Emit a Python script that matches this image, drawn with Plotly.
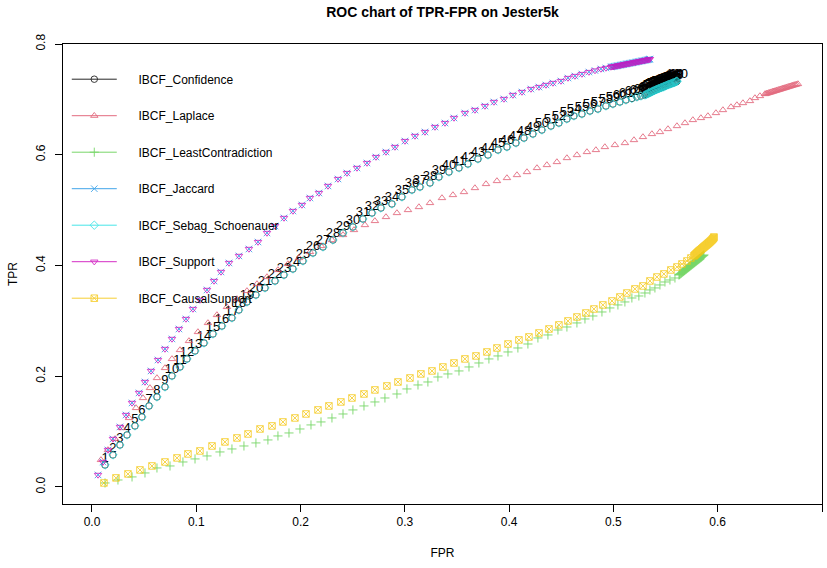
import plotly.graph_objects as go

# ---------------- data ----------------
series_names = ["IBCF_Confidence", "IBCF_Laplace", "IBCF_LeastContradiction", "IBCF_Jaccard",
                "IBCF_Sebag_Schoenauer", "IBCF_Support", "IBCF_CausalSupport"]

confidence_fpr = [0.0125, 0.0201, 0.0268, 0.0336, 0.0412, 0.0479, 0.0547, 0.0623, 0.0700, 0.0767,
                  0.0844, 0.0911, 0.0988, 0.1074, 0.1160, 0.1246, 0.1342, 0.1409, 0.1486, 0.1572,
                  0.1659, 0.1755, 0.1841, 0.1927, 0.2023, 0.2119, 0.2215, 0.2311, 0.2407, 0.2502,
                  0.2598, 0.2685, 0.2771, 0.2876, 0.2972, 0.3068, 0.3145, 0.3241, 0.3327, 0.3423,
                  0.3519, 0.3605, 0.3701, 0.3797, 0.3893, 0.3979, 0.4065, 0.4142, 0.4228, 0.4314,
                  0.4401, 0.4477, 0.4554, 0.4621, 0.4698, 0.4775, 0.4851, 0.4928, 0.4995, 0.5062,
                  0.5120, 0.5177, 0.5225, 0.5264, 0.5302, 0.5312, 0.5322, 0.5332, 0.5342, 0.5352,
                  0.5362, 0.5371, 0.5380, 0.5389, 0.5398, 0.5407, 0.5416, 0.5425, 0.5434, 0.5443,
                  0.5452, 0.5461, 0.5470, 0.5479, 0.5488, 0.5497, 0.5506, 0.5515, 0.5524, 0.5533,
                  0.5542, 0.5551, 0.5560, 0.5569, 0.5578, 0.5586, 0.5594, 0.5601, 0.5606, 0.5610]
confidence_tpr = [0.0397, 0.0578, 0.0758, 0.0939, 0.1102, 0.1264, 0.1463, 0.1625, 0.1806, 0.2005,
                  0.2167, 0.2312, 0.2456, 0.2600, 0.2763, 0.2907, 0.3052, 0.3196, 0.3341, 0.3467,
                  0.3594, 0.3720, 0.3828, 0.3937, 0.4081, 0.4226, 0.4334, 0.4460, 0.4587, 0.4695,
                  0.4840, 0.4948, 0.5038, 0.5111, 0.5237, 0.5364, 0.5418, 0.5490, 0.5598, 0.5688,
                  0.5761, 0.5833, 0.5923, 0.5995, 0.6086, 0.6140, 0.6212, 0.6302, 0.6375, 0.6447,
                  0.6519, 0.6573, 0.6646, 0.6700, 0.6736, 0.6790, 0.6826, 0.6880, 0.6916, 0.6953,
                  0.6989, 0.7016, 0.7043, 0.7061, 0.7079, 0.7088, 0.7097, 0.7106, 0.7115, 0.7124,
                  0.7133, 0.7141, 0.7149, 0.7157, 0.7165, 0.7173, 0.7180, 0.7187, 0.7194, 0.7201,
                  0.7208, 0.7215, 0.7222, 0.7229, 0.7236, 0.7243, 0.7250, 0.7257, 0.7264, 0.7270,
                  0.7276, 0.7282, 0.7288, 0.7294, 0.7300, 0.7306, 0.7312, 0.7318, 0.7324, 0.7330]

laplace_fpr = [0.0086, 0.0153, 0.0221, 0.0288, 0.0355, 0.0422, 0.0489, 0.0556, 0.0623, 0.0700,
               0.0767, 0.0844, 0.0930, 0.1016, 0.1112, 0.1198, 0.1294, 0.1390, 0.1486, 0.1582,
               0.1678, 0.1783, 0.1879, 0.1985, 0.2090, 0.2196, 0.2301, 0.2407, 0.2512, 0.2617,
               0.2713, 0.2819, 0.2924, 0.3030, 0.3135, 0.3241, 0.3356, 0.3461, 0.3567, 0.3672,
               0.3778, 0.3883, 0.3979, 0.4075, 0.4171, 0.4267, 0.4362, 0.4458, 0.4554, 0.4650,
               0.4746, 0.4832, 0.4918, 0.5014, 0.5110, 0.5197, 0.5283, 0.5369, 0.5446, 0.5523,
               0.5609, 0.5686, 0.5762, 0.5839, 0.5906, 0.5983, 0.6050, 0.6127, 0.6184, 0.6242,
               0.6309, 0.6357, 0.6405, 0.6453, 0.6466, 0.6478, 0.6490, 0.6502, 0.6514, 0.6526,
               0.6538, 0.6550, 0.6562, 0.6574, 0.6586, 0.6598, 0.6610, 0.6622, 0.6634, 0.6646,
               0.6658, 0.6670, 0.6682, 0.6694, 0.6706, 0.6718, 0.6730, 0.6742, 0.6755, 0.6769]
laplace_tpr = [0.0488, 0.0668, 0.0867, 0.1065, 0.1246, 0.1427, 0.1607, 0.1788, 0.1968, 0.2149,
               0.2312, 0.2474, 0.2637, 0.2799, 0.2962, 0.3106, 0.3251, 0.3395, 0.3540, 0.3666,
               0.3792, 0.3919, 0.4027, 0.4135, 0.4244, 0.4352, 0.4460, 0.4551, 0.4641, 0.4731,
               0.4804, 0.4876, 0.4948, 0.5002, 0.5056, 0.5129, 0.5219, 0.5273, 0.5327, 0.5399,
               0.5472, 0.5526, 0.5580, 0.5634, 0.5688, 0.5761, 0.5815, 0.5869, 0.5941, 0.5995,
               0.6050, 0.6086, 0.6140, 0.6176, 0.6212, 0.6266, 0.6321, 0.6375, 0.6411, 0.6465,
               0.6519, 0.6573, 0.6628, 0.6664, 0.6700, 0.6754, 0.6808, 0.6862, 0.6898, 0.6934,
               0.6971, 0.7025, 0.7061, 0.7097, 0.7104, 0.7111, 0.7118, 0.7125, 0.7132, 0.7139,
               0.7146, 0.7153, 0.7160, 0.7167, 0.7174, 0.7181, 0.7188, 0.7195, 0.7202, 0.7209,
               0.7216, 0.7223, 0.7230, 0.7237, 0.7244, 0.7251, 0.7258, 0.7264, 0.7271, 0.7278]

leastcontra_fpr = [0.0125, 0.0249, 0.0384, 0.0508, 0.0623, 0.0748, 0.0872, 0.0988, 0.1103, 0.1227,
                   0.1342, 0.1457, 0.1572, 0.1687, 0.1783, 0.1889, 0.1994, 0.2100, 0.2196, 0.2301,
                   0.2407, 0.2502, 0.2608, 0.2713, 0.2809, 0.2924, 0.3020, 0.3126, 0.3221, 0.3317,
                   0.3413, 0.3519, 0.3615, 0.3710, 0.3806, 0.3893, 0.3989, 0.4084, 0.4180, 0.4276,
                   0.4372, 0.4468, 0.4554, 0.4650, 0.4727, 0.4803, 0.4890, 0.4966, 0.5043, 0.5110,
                   0.5177, 0.5244, 0.5302, 0.5350, 0.5398, 0.5446, 0.5494, 0.5542, 0.5590, 0.5628,
                   0.5634, 0.5640, 0.5646, 0.5652, 0.5658, 0.5664, 0.5670, 0.5676, 0.5682, 0.5688,
                   0.5694, 0.5700, 0.5706, 0.5712, 0.5718, 0.5724, 0.5730, 0.5736, 0.5742, 0.5748,
                   0.5754, 0.5760, 0.5766, 0.5772, 0.5778, 0.5784, 0.5790, 0.5796, 0.5802, 0.5808,
                   0.5814, 0.5820, 0.5826, 0.5832, 0.5838, 0.5844, 0.5850, 0.5856, 0.5862, 0.5868]
leastcontra_tpr = [0.0072, 0.0126, 0.0181, 0.0253, 0.0343, 0.0379, 0.0451, 0.0506, 0.0560, 0.0632,
                   0.0686, 0.0740, 0.0795, 0.0849, 0.0921, 0.0975, 0.1047, 0.1120, 0.1174, 0.1246,
                   0.1318, 0.1391, 0.1463, 0.1535, 0.1607, 0.1679, 0.1770, 0.1842, 0.1896, 0.1986,
                   0.2041, 0.2095, 0.2167, 0.2239, 0.2312, 0.2366, 0.2438, 0.2510, 0.2582, 0.2691,
                   0.2745, 0.2835, 0.2889, 0.2962, 0.3034, 0.3088, 0.3160, 0.3233, 0.3287, 0.3341,
                   0.3413, 0.3449, 0.3503, 0.3558, 0.3594, 0.3648, 0.3702, 0.3738, 0.3774, 0.3828,
                   0.3837, 0.3846, 0.3855, 0.3864, 0.3873, 0.3882, 0.3891, 0.3900, 0.3909, 0.3918,
                   0.3927, 0.3936, 0.3945, 0.3954, 0.3963, 0.3972, 0.3981, 0.3990, 0.3999, 0.4008,
                   0.4017, 0.4026, 0.4035, 0.4044, 0.4053, 0.4062, 0.4071, 0.4080, 0.4089, 0.4098,
                   0.4107, 0.4116, 0.4125, 0.4134, 0.4143, 0.4152, 0.4161, 0.4170, 0.4180, 0.4190]

support_fpr = [0.0058, 0.0105, 0.0153, 0.0201, 0.0268, 0.0326, 0.0384, 0.0451, 0.0508, 0.0566,
               0.0633, 0.0700, 0.0767, 0.0834, 0.0901, 0.0968, 0.1035, 0.1103, 0.1170, 0.1237,
               0.1314, 0.1409, 0.1505, 0.1592, 0.1678, 0.1755, 0.1841, 0.1927, 0.2013, 0.2090,
               0.2176, 0.2263, 0.2359, 0.2445, 0.2541, 0.2637, 0.2723, 0.2819, 0.2905, 0.3001,
               0.3097, 0.3193, 0.3289, 0.3385, 0.3471, 0.3576, 0.3672, 0.3768, 0.3854, 0.3950,
               0.4036, 0.4123, 0.4209, 0.4286, 0.4353, 0.4420, 0.4497, 0.4564, 0.4631, 0.4698,
               0.4765, 0.4823, 0.4880, 0.4928, 0.4976, 0.4987, 0.4998, 0.5009, 0.5020, 0.5031,
               0.5042, 0.5053, 0.5064, 0.5075, 0.5086, 0.5097, 0.5108, 0.5119, 0.5130, 0.5141,
               0.5152, 0.5163, 0.5174, 0.5185, 0.5196, 0.5207, 0.5218, 0.5229, 0.5240, 0.5251,
               0.5262, 0.5273, 0.5284, 0.5295, 0.5306, 0.5317, 0.5327, 0.5336, 0.5344, 0.5350]
support_tpr = [0.0217, 0.0451, 0.0668, 0.0867, 0.1084, 0.1300, 0.1517, 0.1698, 0.1896, 0.2095,
               0.2293, 0.2492, 0.2673, 0.2853, 0.3034, 0.3214, 0.3377, 0.3558, 0.3720, 0.3883,
               0.4045, 0.4172, 0.4298, 0.4424, 0.4587, 0.4713, 0.4858, 0.4984, 0.5093, 0.5219,
               0.5309, 0.5436, 0.5562, 0.5670, 0.5761, 0.5851, 0.5959, 0.6050, 0.6140, 0.6248,
               0.6339, 0.6411, 0.6501, 0.6573, 0.6664, 0.6754, 0.6808, 0.6880, 0.6953, 0.7007,
               0.7079, 0.7133, 0.7187, 0.7223, 0.7260, 0.7296, 0.7332, 0.7386, 0.7422, 0.7458,
               0.7494, 0.7521, 0.7549, 0.7567, 0.7585, 0.7589, 0.7593, 0.7597, 0.7601, 0.7605,
               0.7609, 0.7613, 0.7617, 0.7621, 0.7625, 0.7629, 0.7634, 0.7638, 0.7642, 0.7646,
               0.7650, 0.7654, 0.7658, 0.7662, 0.7666, 0.7670, 0.7674, 0.7679, 0.7683, 0.7687,
               0.7691, 0.7695, 0.7699, 0.7703, 0.7707, 0.7711, 0.7715, 0.7719, 0.7724, 0.7729]

# Jaccard and Sebag_Schoenauer coincide with Support and Confidence in the picture
jaccard_fpr, jaccard_tpr = list(support_fpr), list(support_tpr)
sebag_fpr, sebag_tpr = list(confidence_fpr), list(confidence_tpr)

causal_fpr = [0.0115, 0.0230, 0.0345, 0.0460, 0.0575, 0.0700, 0.0815, 0.0920, 0.1035, 0.1151,
              0.1275, 0.1390, 0.1496, 0.1611, 0.1726, 0.1831, 0.1946, 0.2052, 0.2167, 0.2272,
              0.2387, 0.2493, 0.2608, 0.2713, 0.2828, 0.2934, 0.3049, 0.3154, 0.3260, 0.3365,
              0.3471, 0.3576, 0.3682, 0.3787, 0.3883, 0.3989, 0.4094, 0.4190, 0.4286, 0.4382,
              0.4477, 0.4564, 0.4650, 0.4736, 0.4813, 0.4899, 0.4986, 0.5062, 0.5129, 0.5206,
              0.5283, 0.5350, 0.5417, 0.5484, 0.5551, 0.5609, 0.5657, 0.5705, 0.5743, 0.5772,
              0.5777, 0.5782, 0.5787, 0.5792, 0.5797, 0.5802, 0.5807, 0.5812, 0.5817, 0.5822,
              0.5827, 0.5832, 0.5837, 0.5842, 0.5847, 0.5852, 0.5857, 0.5862, 0.5867, 0.5872,
              0.5877, 0.5882, 0.5887, 0.5892, 0.5897, 0.5902, 0.5907, 0.5912, 0.5917, 0.5922,
              0.5927, 0.5932, 0.5937, 0.5942, 0.5947, 0.5951, 0.5955, 0.5959, 0.5962, 0.5964]
causal_tpr = [0.0072, 0.0163, 0.0235, 0.0307, 0.0379, 0.0451, 0.0524, 0.0596, 0.0650, 0.0740,
              0.0813, 0.0885, 0.0957, 0.1047, 0.1102, 0.1174, 0.1246, 0.1318, 0.1391, 0.1463,
              0.1535, 0.1607, 0.1679, 0.1752, 0.1824, 0.1896, 0.1968, 0.2041, 0.2095, 0.2167,
              0.2239, 0.2312, 0.2366, 0.2438, 0.2510, 0.2582, 0.2655, 0.2709, 0.2781, 0.2853,
              0.2926, 0.2998, 0.3070, 0.3142, 0.3214, 0.3287, 0.3359, 0.3431, 0.3503, 0.3576,
              0.3630, 0.3720, 0.3792, 0.3847, 0.3919, 0.3973, 0.4027, 0.4081, 0.4135, 0.4172,
              0.4181, 0.4190, 0.4199, 0.4208, 0.4217, 0.4226, 0.4235, 0.4244, 0.4253, 0.4261,
              0.4269, 0.4277, 0.4285, 0.4293, 0.4301, 0.4309, 0.4317, 0.4325, 0.4333, 0.4341,
              0.4349, 0.4357, 0.4365, 0.4373, 0.4381, 0.4389, 0.4397, 0.4405, 0.4413, 0.4421,
              0.4430, 0.4439, 0.4448, 0.4457, 0.4466, 0.4475, 0.4484, 0.4494, 0.4504, 0.4514]

x_ticks = [0.0, 0.1, 0.2, 0.3, 0.4, 0.5, 0.6, 0.7]
x_tick_labels = ["0.0", "0.1", "0.2", "0.3", "0.4", "0.5", "0.6", "0.7"]
y_ticks = [0.0, 0.2, 0.4, 0.6, 0.8]
y_tick_labels = ["0.0", "0.2", "0.4", "0.6", "0.8"]

# ---------------- styling ----------------
colors = ["#000000", "#DF536B", "#61D04F", "#2297E6", "#28E2E5", "#CD0BBC", "#F5C710"]
symbols = ["circle-open", "triangle-up-open", "cross-thin-open", "x-thin-open",
           "diamond-open", "triangle-down-open", "square-x-open"]
xs = [confidence_fpr, laplace_fpr, leastcontra_fpr, jaccard_fpr, sebag_fpr, support_fpr, causal_fpr]
ys = [confidence_tpr, laplace_tpr, leastcontra_tpr, jaccard_tpr, sebag_tpr, support_tpr, causal_tpr]

FONT = "Liberation Sans, Arial, sans-serif"
fig = go.Figure()

for i in range(7):
    fig.add_trace(go.Scatter(
        x=xs[i], y=ys[i], mode="markers", showlegend=False,
        marker=dict(symbol=symbols[i], size=6.5, color=colors[i],
                    line=dict(width=0.9, color=colors[i])),
        opacity=0.85, hoverinfo="skip"))
    if i == 0:
        fig.add_trace(go.Scatter(
            x=confidence_fpr, y=confidence_tpr, mode="text", showlegend=False,
            text=[str(k + 1) for k in range(len(confidence_fpr))],
            textposition="top center",
            textfont=dict(family=FONT, size=13, color="#000000"),
            hoverinfo="skip"))

# legend entries (line + marker, like R's legend)
for i in range(7):
    fig.add_trace(go.Scatter(
        x=[None], y=[None], mode="lines+markers",
        name="\u00a0\u00a0\u00a0\u00a0\u00a0" + series_names[i],
        legendgroup=series_names[i],
        line=dict(color=colors[i], width=1),
        opacity=0.85,
        marker=dict(symbol=symbols[i], size=6.5, color=colors[i],
                    line=dict(width=0.9, color=colors[i]))))

fig.update_layout(
    width=827, height=568,
    margin=dict(l=63, r=5, t=44, b=64),
    paper_bgcolor="white", plot_bgcolor="white",
    font=dict(family=FONT, size=12, color="#000000"),
    title=dict(text="<b>ROC chart of TPR-FPR on Jester5k</b>",
               x=0.5, xref="paper", y=0.978, yref="container", yanchor="middle",
               font=dict(family=FONT, size=14, color="#000000")),
    showlegend=True,
    legend=dict(x=0.005, y=0.955, xanchor="left", yanchor="top",
                bgcolor="rgba(0,0,0,0)", borderwidth=0,
                font=dict(family=FONT, size=12, color="#000000"),
                itemwidth=45, tracegroupgap=17.5, traceorder="grouped"),
    xaxis=dict(range=[-0.0278, 0.700], tickvals=x_ticks, ticktext=x_tick_labels,
               showgrid=False, zeroline=False, showline=True, mirror=True,
               linecolor="#000000", linewidth=1, ticks="outside", ticklen=7,
               tickcolor="#000000", tickfont=dict(size=12),
               title=dict(text="FPR", font=dict(size=12), standoff=20),
               automargin=False),
    yaxis=dict(range=[-0.0308, 0.800], tickvals=y_ticks, ticktext=y_tick_labels,
               tickangle=-90, ticklabelstandoff=5,
               showgrid=False, zeroline=False, showline=True, mirror=True,
               linecolor="#000000", linewidth=1, ticks="outside", ticklen=7,
               tickcolor="#000000", tickfont=dict(size=12),
               title=dict(text="TPR", font=dict(size=12), standoff=14),
               automargin=False),
)

fig.write_html("out.html")
